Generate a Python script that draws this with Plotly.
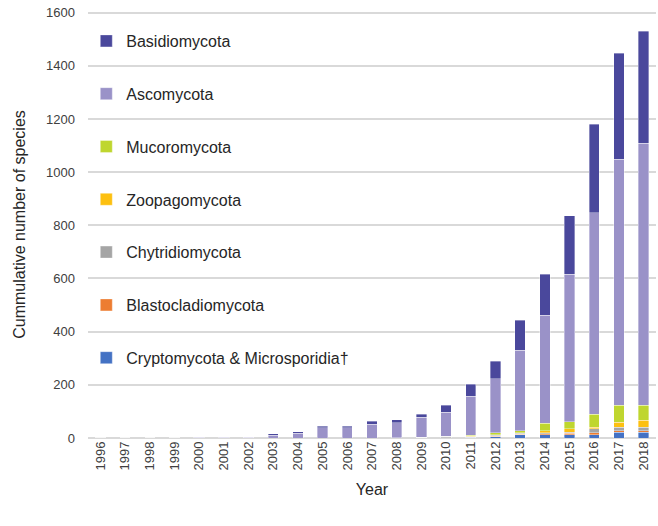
import plotly.graph_objects as go

years = [str(y) for y in range(1996, 2019)]

# species added per phylum (stacked to give the cumulative total)
crypto = [0, 0, 0, 0, 0, 0, 0, 0, 0, 0, 0, 0, 0, 0, 1, 3, 5, 13, 13, 12, 13, 21, 21]
blasto = [0, 0, 0, 0, 0, 0, 0, 0, 0, 0, 0, 0, 0, 0, 0, 0, 1, 1, 3, 6, 7, 6, 7]
chytrid = [0, 0, 0, 0, 0, 0, 0, 0, 0, 0, 0, 0, 1, 2, 6, 2, 5, 4, 4, 3, 14, 14, 13]
zoopago = [0, 0, 0, 0, 0, 0, 0, 0, 0, 0, 0, 0, 0, 0, 0, 1, 1, 1, 7, 13, 6, 19, 25]
mucoro = [0, 0, 0, 0, 0, 0, 0, 0, 0, 0, 0, 0, 0, 0, 0, 5, 7, 9, 28, 28, 49, 63, 57]
asco = [1, 1, 1, 1, 2, 2, 2, 10, 17, 38, 38, 52, 56, 76, 90, 146, 204, 302, 407, 554, 759, 926, 986]
basidio = [0, 0, 0, 0, 0, 1, 1, 6, 7, 6, 6, 11, 12, 11, 26, 46, 66, 113, 154, 220, 333, 398, 420]

series = [
    ("Cryptomycota & Microsporidia\u2020", crypto, "#4472c4"),
    ("Blastocladiomycota", blasto, "#ed7d31"),
    ("Chytridiomycota", chytrid, "#a5a5a5"),
    ("Zoopagomycota", zoopago, "#fdc010"),
    ("Mucoromycota", mucoro, "#bfd62f"),
    ("Ascomycota", asco, "#9a92c8"),
    ("Basidiomycota", basidio, "#4a489c"),
]

fig = go.Figure()
for i, (name, vals, col) in enumerate(series):
    fig.add_trace(go.Bar(x=years, y=vals, name=name, legendgroup=name,
                         legendrank=len(series) - i,
                         marker=dict(color=col, line=dict(color="rgba(255,255,255,0.45)", width=0.8))))

fig.update_layout(
    barmode="stack",
    bargap=0.58,
    width=658, height=526,
    margin=dict(l=88, r=2, t=11, b=88),
    plot_bgcolor="white", paper_bgcolor="white",
    font=dict(family="Liberation Sans", size=13, color="#404040"),
    legend=dict(x=-0.003, y=0.9696, xanchor="left", yanchor="top",
                traceorder="grouped", tracegroupgap=29,
                font=dict(size=16, color="#262626"),
                bgcolor="rgba(0,0,0,0)", itemclick=False),
    showlegend=True,
)
fig.update_xaxes(title=dict(text="Year", font=dict(size=16, color="#262626"), standoff=14),
                 tickangle=-90, showgrid=False, ticks="", showline=False,
                 tickfont=dict(size=13, color="#404040"))
# range a touch above 1600 so the top gridline is not clipped at the edge
fig.update_yaxes(title=dict(text="Cummulative number of species", font=dict(size=16, color="#262626"), standoff=16),
                 range=[0, 1606], tickvals=list(range(0, 1601, 200)), showgrid=True, gridcolor="#d9d9d9", gridwidth=1.5,
                 zeroline=True, zerolinecolor="#d9d9d9", zerolinewidth=2,
                 ticks="", ticklabelstandoff=12, tickfont=dict(size=13, color="#404040"))

# drop the page's default body margin so the figure fills the window
fig.write_html("out.html", config={"displayModeBar": False},
               post_script="document.body.style.margin = '0px';")
